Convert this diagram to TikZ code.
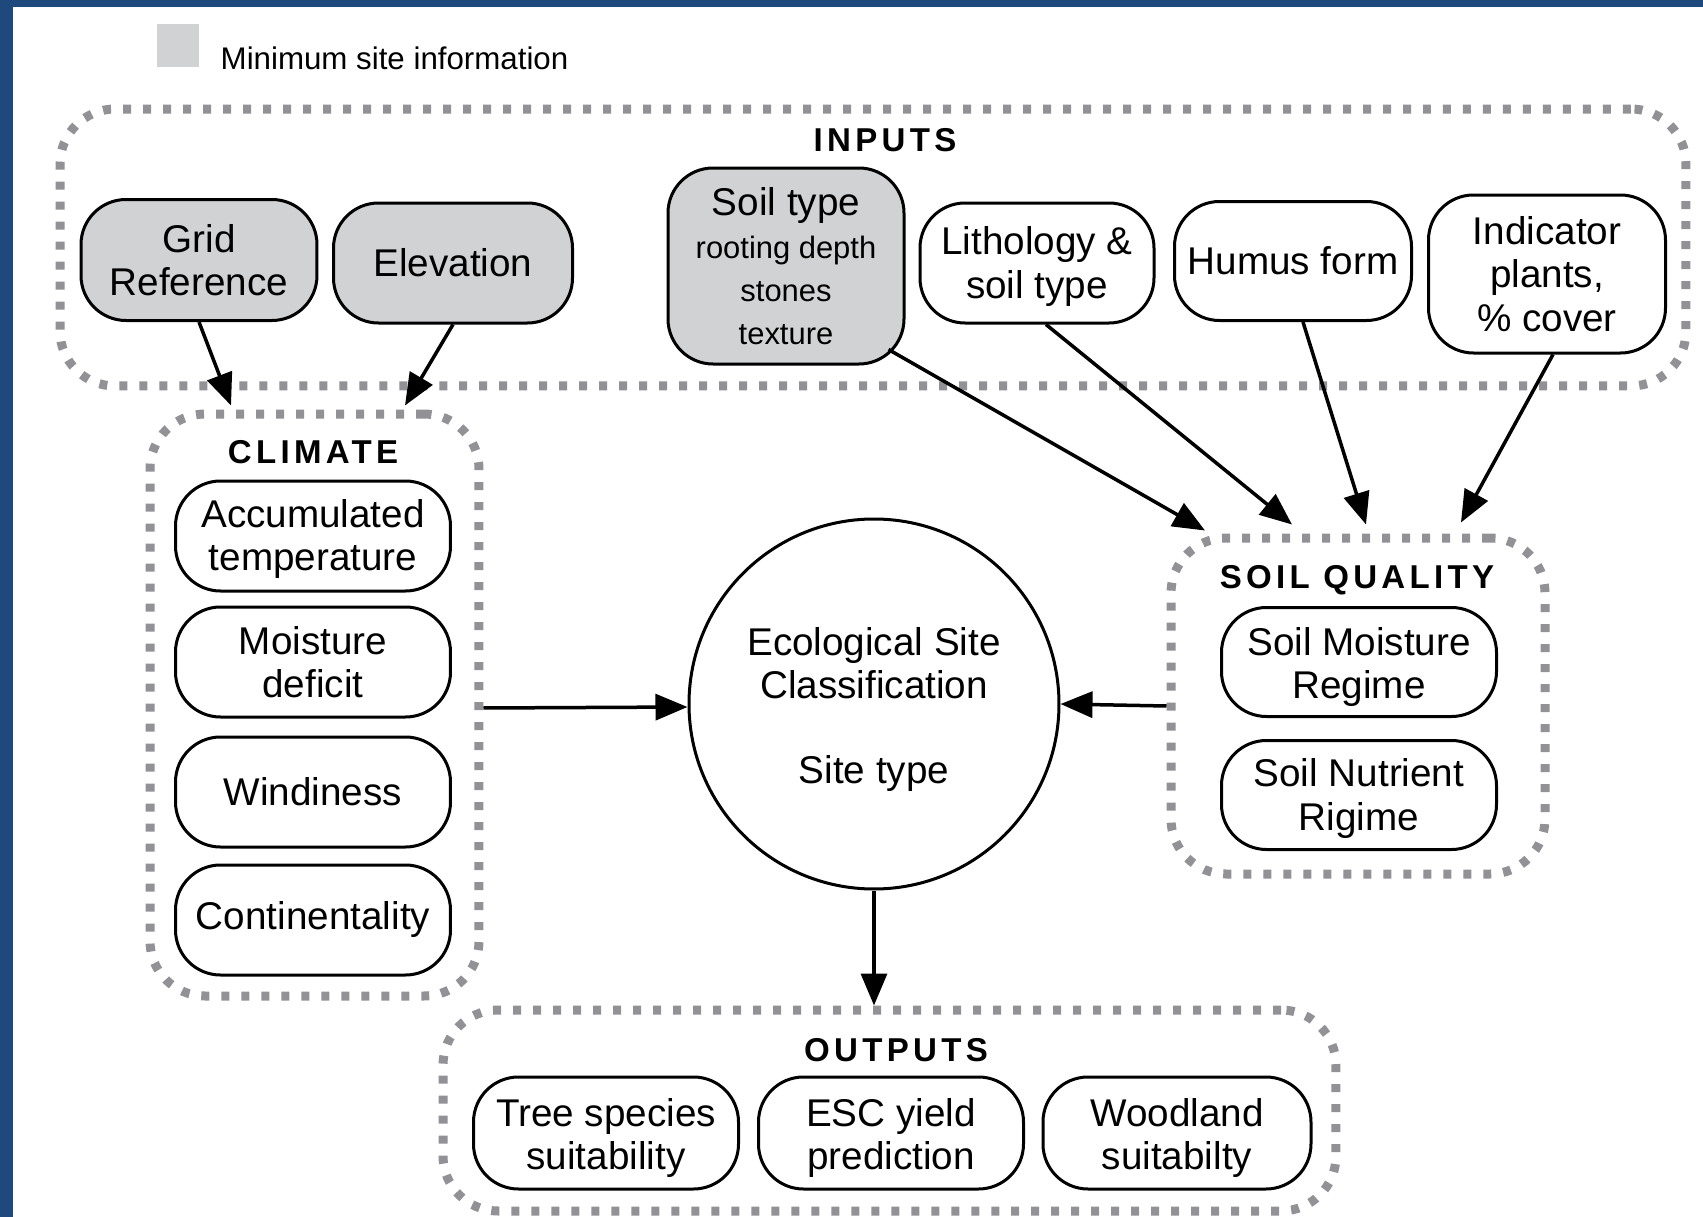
\documentclass[tikz,border=0pt]{standalone}
\usepackage{fontspec}
\setmainfont{Liberation Sans}
\newfontfamily\headfont{Liberation Sans}[LetterSpace=13]
\usetikzlibrary{arrows.meta}
\definecolor{framecol}{RGB}{31,73,125}
\definecolor{fillgray}{RGB}{209,210,212}
\definecolor{dotgray}{RGB}{145,145,150}
\newcommand{\smalltxt}{\fontsize{8.8}{10.8}\selectfont}
\newcommand{\lowr}{\rule{0pt}{11pt}}

\begin{document}
\begin{tikzpicture}[x=0.1mm, y=-0.1mm,
	whiten/.style={rectangle, rounded corners=4.5mm, draw=black, line width=0.3mm, fill=white, align=center, inner sep=0pt, font=\fontsize{11}{12.3}\selectfont},
	grayn/.style={whiten, fill=fillgray},
	climn/.style={whiten, minimum width=27.5mm, minimum height=11mm},
	outn/.style={whiten, minimum width=26.5mm, minimum height=11.2mm},
	groupn/.style={rectangle, rounded corners=5.5mm, draw=dotgray, line width=0.9mm, dash pattern=on 0.8mm off 1.2mm},
	headn/.style={inner sep=0pt, font=\headfont\fontsize{9.4}{11}\selectfont\bfseries},
	arr/.style={-{Triangle[length=3.2mm,width=2.6mm]}, line width=0.35mm}]

	\fill[framecol] (0,0) rectangle (1703,7);
	\fill[framecol] (0,0) rectangle (13,1217);
	\useasboundingbox (0,0) rectangle (1703,1217);

	\node (legbox) [fill=fillgray, minimum width=4.2mm, minimum height=4.3mm, inner sep=0pt] at (178,45.5) {};
	\node (legtext) [anchor=west, inner sep=0pt, font=\fontsize{8.9}{10}\selectfont] at (220,58) {Minimum site information};

	\node (inputs) [groupn, minimum width=162.6mm, minimum height=27.7mm] at (873,247.5) {};
	\node (climate) [groupn, minimum width=32.9mm, minimum height=58.2mm] at (314.5,705) {};
	\node (soilq) [groupn, minimum width=37.4mm, minimum height=33.6mm] at (1358,706) {};
	\node (outputs) [groupn, minimum width=89.3mm, minimum height=20.1mm] at (889.5,1110.5) {};

	\node (inputsh) [headn] at (885,140) {INPUTS};
	\node (climateh) [headn] at (313,452) {CLIMATE};
	\node (soilqh) [headn] at (1357,580) {SOIL QUALITY};
	\node (outputsh) [headn] at (896,1050) {OUTPUTS};

	\node (grid) [grayn, minimum width=23.6mm, minimum height=12.1mm] at (199,260) {Grid\\Reference};
	\node (elev) [grayn, minimum width=23.9mm, minimum height=12mm] at (453,263) {Elevation};
	\node (soil) [grayn, minimum width=23.6mm, minimum height=19.6mm] at (786,266) {Soil type\\\smalltxt rooting depth\\\smalltxt stones\\\smalltxt texture};
	\node (litho) [whiten, minimum width=23.4mm, minimum height=12mm] at (1037,263) {\rule{0pt}{10pt}Lithology \&\\soil type};
	\node (humus) [whiten, minimum width=23.7mm, minimum height=11.9mm] at (1293,261) {Humus form};
	\node (indic) [whiten, minimum width=23.7mm, minimum height=15.8mm] at (1547,274) {Indicator\\plants,\\\% cover};

	\node (accum) [climn] at (313,536) {\rule{0pt}{9.5pt}Accumulated\\temperature};
	\node (moist) [climn] at (313,662) {Moisture\\deficit};
	\node (wind) [climn] at (313,792) {Windiness};
	\node (contin) [climn] at (313,920) {Continentality};

	\node (esc) [circle, draw, line width=0.3mm, minimum size=37mm, inner sep=0pt, align=center, font=\fontsize{11}{12.3}\selectfont] at (874,704) {\lowr Ecological Site\\Classification\\[4.2mm]Site type};

	\node (smr) [climn, minimum height=10.9mm] at (1359,662) {\lowr Soil Moisture\\Regime};
	\node (snr) [climn, minimum height=10.9mm] at (1359,795) {\rule{0pt}{10pt}Soil Nutrient\\Rigime};

	\node (tree) [outn] at (606,1133) {\lowr Tree species\\suitability};
	\node (yield) [outn] at (891,1133) {\lowr ESC yield\\prediction};
	\node (wood) [outn, minimum width=26.8mm] at (1177,1133) {\lowr Woodland\\suitabilty};

	\draw [arr] (grid.south) -- ([xshift=-8.35mm,yshift=0.4mm]climate.north);
	\draw [arr] (elev.south) -- ([xshift=9.05mm,yshift=0.4mm]climate.north);
	\draw [arr] ([xshift=-1.7mm,yshift=1.6mm]soil.south east) -- ([xshift=-15.3mm,yshift=0.3mm]soilq.north);
	\draw [arr] ([xshift=0.9mm]litho.south) -- ([xshift=-6.6mm,yshift=0.9mm]soilq.north);
	\draw [arr] ([xshift=1mm]humus.south) -- ([xshift=0.8mm,yshift=0.9mm]soilq.north);
	\draw [arr] ([xshift=0.6mm]indic.south) -- ([xshift=10.3mm,yshift=1.1mm]soilq.north);
	\draw [arr] ([yshift=-0.3mm]climate.east) -- ([yshift=-0.3mm]esc.west);
	\draw [arr] (soilq.west) -- (esc.east);
	\draw [arr] (esc.south) -- (esc.south |- outputs.north);

\end{tikzpicture}
\end{document}
